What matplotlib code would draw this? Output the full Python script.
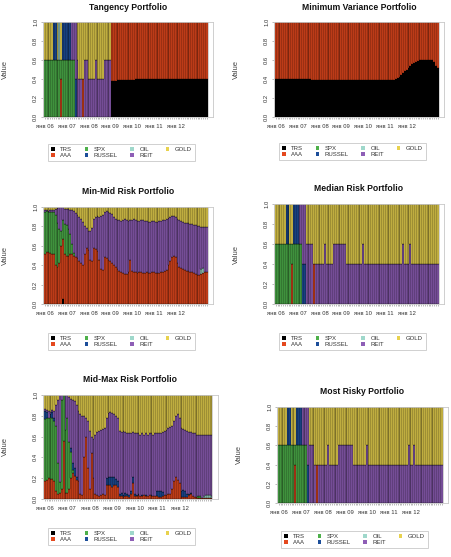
import matplotlib
matplotlib.use('Agg')
import matplotlib.pyplot as plt
from matplotlib.patches import Patch
import numpy as np

plt.rcParams['font.family'] = ['Liberation Sans', 'DejaVu Sans']

W, H = 452, 557

ASSETS = ['TRS', 'AAA', 'SPX', 'RUSSEL', 'OIL', 'REIT', 'GOLD']
COLORS = ['#000000', '#E4481E', '#4DB04A', '#1C4E9A', '#9FD8CB', '#8E5EB6', '#E8D24E']
N_BARS = 90
TICK_POS = [0, 12, 24, 36, 48, 60, 72]
TICK_LABELS = ['янв 06', 'янв 07', 'янв 08', 'янв 09', 'янв 10', 'янв 11', 'янв 12']

# --- Tangency portfolio (GOLD = remainder)
TAN_TRS = [0] * 37 + [0.38] * 3 + [0.39] * 10 + [0.40] * 40
TAN_AAA = [0] * 9 + [0.4] + [0] * 11 + [0.4] + [0] * 15 + [0.62] * 3 + [0.61] * 10 + [0.60] * 40
TAN_SPX = [0.6] * 9 + [0.2] + [0.6] * 7 + [0] * 73
TAN_RUSSEL = [0] * 5 + [0.4] * 2 + [0] * 3 + [0.4] * 5 + [0] * 2 + [0.4] + [0] * 72
TAN_OIL = [0] * 8 + [0.4] + [0] * 81
TAN_REIT = ([0] * 15 + [0.4] * 2 + [0.6, 0.6] + [0.4] * 2 + [0] + [0.6] * 2 + [0.4] * 4
            + [0.6] + [0.4] * 4 + [0.6] * 4 + [0] * 53)

# --- Minimum variance portfolio (AAA = remainder)
MV_TRS = ([0.40] * 10 + [0.395] * 10 + [0.39] * 46
          + [0.40, 0.41, 0.42, 0.44, 0.46, 0.48, 0.50, 0.52, 0.54, 0.56, 0.57, 0.58, 0.59]
          + [0.60] * 8 + [0.58, 0.54, 0.52])

# --- Min-Mid risk portfolio (REIT = remainder)
MM_TRS = [0] * 10 + [0.05] + [0] * 79
MM_AAA = [0.52, 0.54, 0.54, 0.53, 0.52, 0.52, 0.40, 0.38, 0.42, 0.60,
          0.62, 0.52, 0.49, 0.49, 0.52, 0.52, 0.50, 0.48, 0.47, 0.44,
          0.42, 0.40, 0.52, 0.58, 0.56, 0.45, 0.44, 0.58, 0.57, 0.55,
          0.45, 0.36, 0.35, 0.48, 0.47, 0.45, 0.44, 0.42, 0.40, 0.38,
          0.36, 0.34, 0.33, 0.32, 0.31, 0.31, 0.33, 0.45, 0.34, 0.33,
          0.33, 0.32, 0.33, 0.33, 0.32, 0.32, 0.33, 0.32, 0.32, 0.33,
          0.33, 0.32, 0.32, 0.32, 0.33, 0.33, 0.34, 0.35, 0.40, 0.44,
          0.48, 0.50, 0.48, 0.42, 0.38, 0.37, 0.36, 0.35, 0.34, 0.34,
          0.33, 0.33, 0.32, 0.31, 0.30, 0.30, 0.31, 0.32, 0.33, 0.33]
MM_SPX = ([0.43, 0.42, 0.41, 0.42, 0.43, 0.43, 0.52, 0.45, 0.35, 0.15,
           0.20, 0.30, 0.32, 0.28, 0.20, 0.10, 0.03] + [0] * 73)
MM_OIL = [0] * 86 + [0.05, 0.05] + [0] * 2
MM_GOLD = [0.03, 0.03, 0.04, 0.03, 0.03, 0.03, 0.02, 0.01, 0.00, 0.00,
           0.00, 0.02, 0.02, 0.02, 0.03, 0.03, 0.04, 0.06, 0.08, 0.10,
           0.12, 0.15, 0.20, 0.22, 0.25, 0.25, 0.22, 0.12, 0.10, 0.09,
           0.10, 0.09, 0.08, 0.05, 0.04, 0.05, 0.06, 0.07, 0.10, 0.12,
           0.13, 0.13, 0.14, 0.13, 0.12, 0.13, 0.14, 0.13, 0.13, 0.12,
           0.13, 0.14, 0.14, 0.13, 0.13, 0.14, 0.14, 0.15, 0.15, 0.14,
           0.14, 0.15, 0.15, 0.14, 0.14, 0.13, 0.13, 0.12, 0.11, 0.10,
           0.09, 0.09, 0.10, 0.12, 0.13, 0.14, 0.15, 0.16, 0.16, 0.17,
           0.18, 0.18, 0.19, 0.19, 0.20, 0.20, 0.21, 0.21, 0.21, 0.21]

# --- Median risk portfolio (GOLD = remainder)
MED_AAA = [0] * 9 + [0.4] + [0] * 11 + [0.4] + [0] * 68
MED_SPX = [0.6] * 9 + [0.2] + [0.6] * 5 + [0] * 75
MED_RUSSEL = [0] * 6 + [0.4] * 2 + [0] * 2 + [0.4] * 3 + [0] * 2 + [0.4] * 2 + [0] * 73
MED_REIT = ([0] * 13 + [0.4] * 2 + [0.6] * 2 + [0.6] * 4 + [0] + [0.4] * 5 + [0.6]
            + [0.4] * 4 + [0.6] * 7 + [0.4] * 9 + [0.6] + [0.4] * 21 + [0.6]
            + [0.4] * 3 + [0.6] + [0.4] * 15)

# --- Mid-Max risk portfolio (REIT = remainder)
MX_AAA = [0.17, 0.18, 0.20, 0.19, 0.19, 0.17, 0.08, 0.05, 0.06, 0.10,
          0.56, 0.06, 0.06, 0.10, 0.20, 0.25, 0.22, 0.18, 0.17, 0.05,
          0.04, 0.40, 0.60, 0.30, 0.10, 0.44, 0.20, 0.05, 0.04, 0.03,
          0.04, 0.05, 0.04, 0.13, 0.13, 0.13, 0.12, 0.13, 0.13, 0.12,
          0.03, 0.03, 0.02, 0.03, 0.03, 0.02, 0.05, 0.15, 0.03, 0.03,
          0.04, 0.03, 0.03, 0.04, 0.03, 0.03, 0.04, 0.03, 0.03, 0.03,
          0.03, 0.02, 0.02, 0.03, 0.04, 0.04, 0.05, 0.05, 0.10, 0.17,
          0.21, 0.18, 0.15, 0.02, 0.02, 0.02, 0.02, 0.04, 0.05, 0.03,
          0.02, 0.02, 0.01, 0.01, 0.01, 0.01, 0.01, 0.01, 0.01, 0.01]
MX_SPX = ([0.60, 0.60, 0.58, 0.60, 0.59, 0.58, 0.62, 0.30, 0.10, 0.85,
           0.44, 0.60, 0.72, 0.45, 0.25, 0.03] + [0] * 66 + [0.02, 0.02] + [0] * 6)
MX_RUSSEL = [0.08, 0.06, 0.00, 0.03, 0.06, 0.03, 0.00, 0.00, 0.00, 0.00,
             0.00, 0.00, 0.00, 0.00, 0.04, 0.07, 0.08, 0.03, 0.00, 0.00,
             0.00, 0.00, 0.00, 0.00, 0.00, 0.00, 0.00, 0.00, 0.00, 0.00,
             0.00, 0.00, 0.00, 0.07, 0.08, 0.08, 0.09, 0.08, 0.06, 0.05,
             0.02, 0.03, 0.02, 0.03, 0.02, 0.02, 0.03, 0.06, 0.02, 0.01,
             0.01, 0.00, 0.01, 0.00, 0.01, 0.00, 0.00, 0.01, 0.00, 0.00,
             0.05, 0.06, 0.06, 0.04, 0.00, 0.00, 0.00, 0.00, 0.00, 0.00,
             0.00, 0.00, 0.00, 0.06, 0.07, 0.06, 0.03, 0.01, 0.01, 0.00,
             0.00, 0.00, 0.00, 0.00, 0.00, 0.00, 0.00, 0.00, 0.00, 0.00]
MX_OIL = [0] * 85 + [0.02, 0.03, 0.03, 0.03, 0.02]
MX_GOLD = [0.13, 0.14, 0.15, 0.16, 0.14, 0.15, 0.10, 0.05, 0.00, 0.00,
           0.00, 0.00, 0.00, 0.02, 0.04, 0.05, 0.06, 0.10, 0.15, 0.18,
           0.20, 0.20, 0.22, 0.25, 0.35, 0.40, 0.42, 0.38, 0.36, 0.35,
           0.34, 0.33, 0.32, 0.22, 0.17, 0.16, 0.17, 0.18, 0.20, 0.22,
           0.35, 0.36, 0.35, 0.36, 0.37, 0.37, 0.37, 0.36, 0.37, 0.37,
           0.37, 0.38, 0.37, 0.38, 0.37, 0.38, 0.37, 0.37, 0.38, 0.37,
           0.37, 0.37, 0.37, 0.36, 0.35, 0.34, 0.32, 0.31, 0.30, 0.25,
           0.20, 0.18, 0.22, 0.32, 0.33, 0.34, 0.35, 0.36, 0.36, 0.37,
           0.37, 0.38, 0.38, 0.38, 0.38, 0.38, 0.38, 0.38, 0.38, 0.38]

# --- Most risky portfolio (GOLD = remainder)
MR_AAA = [0] * 9 + [0.4] + [0] * 11 + [0.4] + [0] * 68
MR_SPX = [0.6] * 9 + [0.2] + [0.6] * 6 + [0] * 74
MR_RUSSEL = [0] * 5 + [0.4] * 2 + [0] * 3 + [0.4] * 3 + [0] * 3 + [0.4] + [0] * 73
MR_REIT = ([0] * 13 + [0.4] * 3 + [0.6] + [0.6] * 3 + [0.4] + [0] + [0.4] * 5 + [0.6]
           + [0.4] * 5 + [0.6] * 8 + [0.4] * 7 + [0.6] + [0.4] * 22 + [0.6]
           + [0.4] * 2 + [0.6] + [0.4] * 15)

# title, given series, remainder series, axes box (px), title y, legend top-left
PANELS = [
    ('Tangency Portfolio',
     dict(TRS=TAN_TRS, AAA=TAN_AAA, SPX=TAN_SPX, RUSSEL=TAN_RUSSEL, OIL=TAN_OIL, REIT=TAN_REIT),
     'GOLD', (43, 213, 22, 117), 7, (48, 144)),
    ('Minimum Variance Portfolio', dict(TRS=MV_TRS),
     'AAA', (274, 444, 22, 117), 7, (279, 143)),
    ('Min-Mid Risk Portfolio',
     dict(TRS=MM_TRS, AAA=MM_AAA, SPX=MM_SPX, OIL=MM_OIL, GOLD=MM_GOLD),
     'REIT', (43, 213, 207, 304), 192, (48, 333)),
    ('Median Risk Portfolio',
     dict(AAA=MED_AAA, SPX=MED_SPX, RUSSEL=MED_RUSSEL, REIT=MED_REIT),
     'GOLD', (274, 444, 204, 304), 189, (279, 333)),
    ('Mid-Max Risk Portfolio',
     dict(AAA=MX_AAA, SPX=MX_SPX, RUSSEL=MX_RUSSEL, OIL=MX_OIL, GOLD=MX_GOLD),
     'REIT', (43, 218, 395, 499), 379, (48, 528)),
    ('Most Risky Portfolio',
     dict(AAA=MR_AAA, SPX=MR_SPX, RUSSEL=MR_RUSSEL, REIT=MR_REIT),
     'GOLD', (277, 448, 407, 503), 392, (281, 531)),
]

fig = plt.figure(figsize=(W / 100, H / 100), dpi=100)
x = np.arange(N_BARS)
handles = [Patch(facecolor=c, edgecolor='none') for c in COLORS]

for title, given, rest, (x0, x1, y0, y1), ty, (lx, ly) in PANELS:
    w = {a: np.array(given.get(a, [0] * N_BARS), dtype=float) for a in ASSETS}
    w[rest] = np.clip(1 - sum(w[a] for a in ASSETS if a != rest), 0, 1)

    ax = fig.add_axes([x0 / W, 1 - y1 / H, (x1 - x0) / W, (y1 - y0) / H])
    bottom = np.zeros(N_BARS)
    for a, c in zip(ASSETS, COLORS):
        v = w[a]
        m = v > 0.001
        ax.bar(x[m], v[m], bottom=bottom[m], width=1.0, color=c,
               edgecolor='black', linewidth=0.25)
        bottom += v

    ax.set_xlim(-1.0, 92.5)
    ax.set_ylim(0, 1)
    ax.set_xticks(TICK_POS)
    ax.set_xticklabels(TICK_LABELS)
    ax.set_xticks(x, minor=True)
    ax.set_yticks([0, 0.2, 0.4, 0.6, 0.8, 1.0])
    ax.set_yticklabels(['0.0', '0.2', '0.4', '0.6', '0.8', '1.0'])
    ax.tick_params(axis='both', which='both', length=1.5, width=0.4, color='#888888',
                   labelsize=4.2, labelcolor='#333333')
    ax.tick_params(axis='x', pad=3.5)
    ax.tick_params(axis='y', pad=2, labelrotation=90)
    for lab in ax.get_yticklabels():
        lab.set_va('center')
    for s in ax.spines.values():
        s.set_color('#C8C8C8')
        s.set_linewidth(0.6)
    ax.set_ylabel('Value', fontsize=5.5, color='#444444')
    ax.yaxis.set_label_coords(-34 / (x1 - x0), 0.5)

    fig.text((x0 + x1) / 2 / W, 1 - ty / H, title, ha='center', va='center',
             fontsize=6.2, fontweight='bold', color='#111111')

    leg = ax.legend(handles, ASSETS, ncol=4, loc='upper left',
                    bbox_to_anchor=(lx / W, 1 - ly / H), bbox_transform=fig.transFigure,
                    frameon=True, fancybox=False, fontsize=4.3, handlelength=0.6,
                    handleheight=0.6, handletextpad=0.9, columnspacing=2.1,
                    borderpad=0.55, labelspacing=0.15, borderaxespad=0)
    leg.get_frame().set_edgecolor('#BBBBBB')
    leg.get_frame().set_linewidth(0.6)
    for t in leg.get_texts():
        t.set_color('#333333')

fig.savefig('out.png', dpi=100)
